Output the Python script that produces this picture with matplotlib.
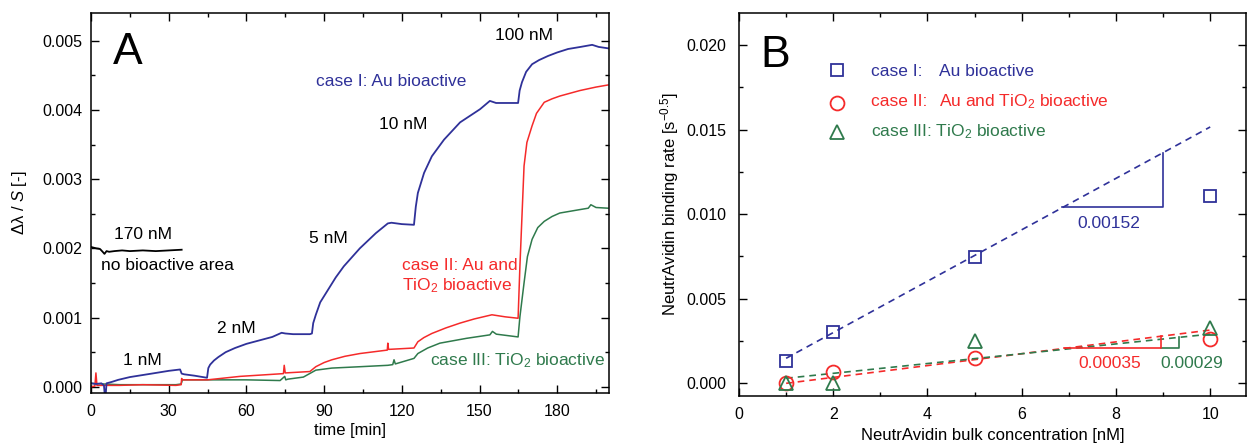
import numpy as np
import matplotlib
matplotlib.use('Agg')
import matplotlib.pyplot as plt
from matplotlib.ticker import MultipleLocator

plt.rcParams['font.family'] = ['Liberation Sans', 'DejaVu Sans']
plt.rcParams['mathtext.fontset'] = 'custom'
plt.rcParams['mathtext.rm'] = 'Liberation Sans'
plt.rcParams['mathtext.it'] = 'Liberation Sans:italic'

BLUE = '#2f3199'
RED = '#f52a2a'
GREEN = '#2f7a4c'

# panel A: sensorgrams (time [min], dlambda/S)
t_blue = [0, 2, 4, 5, 5.5, 6, 8, 10.5, 15, 23.4, 30, 34.4, 35, 36, 40, 44.8, 45.3, 46, 47.5, 49.2, 52, 55.6, 60, 65, 70, 73.6, 75, 78, 84.5,
          85.3, 85.8, 86.8, 88.5, 91.5, 94.5, 97.6, 103.8, 110, 114.6, 116, 120, 124.7, 125.4, 126.2, 128.6, 131.6, 136.3, 142.5, 150.2, 154,
          156.4, 160, 164.9, 165.5, 166.4, 168, 170.3, 173, 176.5, 180, 184.2, 189, 193.5, 196, 199.6]
v_blue = [0.00005, 0.00004, 0.00005, 0.00002, -0.0002, 0.00005, 0.00007, 0.0001, 0.00014, 0.00019, 0.00023, 0.00025, 0.00019, 0.00018, 0.00016, 0.00013, 0.00027, 0.00032, 0.00038, 0.00043, 0.0005, 0.00056, 0.00062, 0.00067, 0.00072, 0.00078, 0.00077, 0.00076, 0.00076,
          0.00077, 0.00092, 0.00104, 0.00122, 0.0014, 0.00158, 0.00174, 0.002, 0.00222, 0.00236, 0.00237, 0.00235, 0.00234, 0.0026, 0.0028, 0.00309, 0.00333, 0.00357, 0.00382, 0.00401, 0.00413,
          0.0041, 0.0041, 0.0041, 0.00428, 0.0044, 0.00455, 0.00466, 0.00472, 0.00478, 0.00483, 0.00488, 0.00491, 0.00494, 0.00491, 0.00489]

t_red = [0, 1.5, 1.9, 2.3, 5, 11, 20, 32.8, 34.8, 35, 35.3, 36, 45, 57.5, 74.3, 74.6, 75, 84.5, 86.8, 90, 93, 98, 103.8, 114.4, 114.6, 114.9, 124.7,
         126.2, 128.5, 131.6, 137, 142.5, 148, 154.8, 160, 164.9, 165.6, 167.2, 168.3, 170.3, 172, 175, 178, 181, 188.8, 195, 199.6]
v_red = [0.0, 0.00001, 0.0002, 0.00002, 0.00002, 0.00002, 0.00003, 0.00002, 0.00003, 0.00012, 0.0001, 0.0001, 0.0001, 0.00015, 0.00019, 0.00031, 0.0002, 0.00022, 0.00029, 0.00035, 0.00039, 0.00044, 0.00048, 0.00053, 0.00063, 0.00054, 0.00056,
         0.00065, 0.00071, 0.00077, 0.00085, 0.00092, 0.00098, 0.00104, 0.00101, 0.00099, 0.00174, 0.00319, 0.00353, 0.00377, 0.00395, 0.00411, 0.00416, 0.0042, 0.00428, 0.00433, 0.00436]

t_green = [0, 5, 11, 20, 32.8, 34.8, 35.3, 45, 60, 73, 74.8, 75.2, 76, 82, 86.8, 93, 104, 114.6, 116.5, 117, 117.5, 124.7,
           126.2, 130, 134.7, 145, 154, 155, 156.5, 164.9, 165.6, 167.2, 168.5, 170.3, 172.5, 175, 178, 181, 188.8, 192, 193, 195, 199.6]
v_green = [0.00005, 0.00004, 0.00003, 0.00003, 0.00003, 0.00004, 0.0001, 0.0001, 0.0001, 0.00009, 0.00015, 0.0001, 0.00011, 0.00014, 0.00024, 0.00027, 0.00029, 0.00031, 0.00032, 0.00039, 0.00033, 0.00041,
           0.00048, 0.00056, 0.00063, 0.0007, 0.00075, 0.0008, 0.00076, 0.00072, 0.00101, 0.0015, 0.00188, 0.00213, 0.0023, 0.00239, 0.00246, 0.00251, 0.00256, 0.00258, 0.00263, 0.00259, 0.00258]

t_black = [0, 2, 3.5, 4.5, 5.2, 6, 7, 9, 12, 15, 20, 25, 30, 35]
v_black = [0.00202, 0.002, 0.00199, 0.00195, 0.00192, 0.00196, 0.00195, 0.00196, 0.00197, 0.00196, 0.00197, 0.00196, 0.00197, 0.00198]

# panel B: binding rates vs. bulk concentration
conc = [1, 2, 5, 10]
rate_au = [0.00132, 0.00302, 0.00745, 0.01105]
rate_au_tio2 = [0.0, 0.00065, 0.00152, 0.00265]
rate_tio2 = [0.0, 0.0, 0.00248, 0.00326]

# linear fits (slope, intercept)
fit_au = (0.00152, -0.00004)
fit_au_tio2 = (0.00035, -0.00035)
fit_tio2 = (0.00029, 0.00001)
fit_x = [1, 10]

fig = plt.figure(figsize=(12.48, 4.45), dpi=100)
axA = fig.add_axes([91 / 1248, 1 - 393 / 445, (609 - 91) / 1248, (393 - 13) / 445])
axB = fig.add_axes([739 / 1248, 1 - 396 / 445, (1246 - 739) / 1248, (396 - 13) / 445])

for ax in (axA, axB):
    ax.tick_params(which='both', direction='in', top=True, right=True, labelsize=11.5, width=1)
    ax.tick_params(which='major', length=6)
    ax.tick_params(which='minor', length=3)
    for s in ax.spines.values():
        s.set_linewidth(1.1)
axA.tick_params(axis='y', pad=6)
axA.tick_params(axis='x', pad=8)
axB.tick_params(axis='y', pad=9)
axB.tick_params(axis='x', pad=8)

# ---- panel A
axA.plot(t_black, v_black, color='black', lw=1.3)
axA.plot(t_green, v_green, color=GREEN, lw=1.1)
axA.plot(t_red, v_red, color=RED, lw=1.1)
axA.plot(t_blue, v_blue, color=BLUE, lw=1.3)
axA.set_xlim(0, 200)
axA.set_ylim(-0.00009, 0.0054)
axA.xaxis.set_major_locator(MultipleLocator(30))
axA.xaxis.set_minor_locator(MultipleLocator(15))
axA.yaxis.set_major_locator(MultipleLocator(0.001))
axA.yaxis.set_minor_locator(MultipleLocator(0.0005))
axA.yaxis.set_major_formatter(plt.FormatStrFormatter('%.3f'))
axA.set_xlabel('time [min]', fontsize=12, labelpad=3)
axA.set_ylabel(r'Δλ / $S$ [-]', fontsize=12, labelpad=10)

fs = 12.5
axA.text(8.3, 0.00467, 'A', fontsize=32)
axA.text(167, 0.00501, '100 nM', ha='center', fontsize=fs)
axA.text(86.8, 0.00434, 'case I: Au bioactive', color=BLUE, fontsize=fs)
axA.text(120.5, 0.00373, '10 nM', ha='center', fontsize=fs)
axA.text(91.5, 0.00208, '5 nM', ha='center', fontsize=fs)
axA.text(20, 0.00214, '170 nM', ha='center', fontsize=fs)
axA.text(3.9, 0.00168, 'no bioactive area', fontsize=fs)
axA.text(56, 0.00077, '2 nM', ha='center', fontsize=fs)
axA.text(20, 0.00032, '1 nM', ha='center', fontsize=fs)
axA.text(120, 0.00169, 'case II: Au and', color=RED, fontsize=fs)
axA.text(120, 0.0014, r'TiO$_2$ bioactive', color=RED, fontsize=fs)
axA.text(131, 0.00031, r'case III: TiO$_2$ bioactive', color=GREEN, fontsize=fs)

# ---- panel B
for (m, b), col in ((fit_au, BLUE), (fit_au_tio2, RED), (fit_tio2, GREEN)):
    axB.plot(fit_x, [m * x + b for x in fit_x], ls=(0, (4, 3)), color=col, lw=1.2)

mk = dict(ls='none', fillstyle='none', mew=1.3)
axB.plot(conc, rate_au, marker='s', color=BLUE, markersize=8.5, **mk)
axB.plot(conc, rate_au_tio2, marker='o', color=RED, markersize=10, **mk)
axB.plot(conc, rate_tio2, marker='^', color=GREEN, markersize=10.5, **mk)

# slope triangles
axB.plot([6.85, 9.0, 9.0], [0.0104, 0.0104, fit_au[0] * 9.0 + fit_au[1]], color=BLUE, lw=1.2)
axB.plot([8.95, 9.33, 9.33], [0.00206, 0.00206, fit_tio2[0] * 9.33 + fit_tio2[1]], color=GREEN, lw=1.2)
axB.plot([6.9, 8.95, 8.95], [0.00206, 0.00206, fit_au_tio2[0] * 8.95 + fit_au_tio2[1]], color=RED, lw=1.2)
axB.text(7.85, 0.00919, '0.00152', color=BLUE, ha='center', fontsize=fs)
axB.text(7.86, 0.00089, '0.00035', color=RED, ha='center', fontsize=fs)
axB.text(9.6, 0.00089, '0.00029', color=GREEN, ha='center', fontsize=fs)

# legend drawn by hand
axB.plot([2.09], [0.01852], marker='s', color=BLUE, markersize=8.5, **mk)
axB.plot([2.09], [0.0166], marker='o', color=RED, markersize=10, **mk)
axB.plot([2.09], [0.01488], marker='^', color=GREEN, markersize=10.5, **mk)
axB.text(2.81, 0.01818, 'case I:', color=BLUE, fontsize=fs)
axB.text(4.25, 0.01818, 'Au bioactive', color=BLUE, fontsize=fs)
axB.text(2.81, 0.0164, 'case II:', color=RED, fontsize=fs)
axB.text(4.25, 0.0164, r'Au and TiO$_2$ bioactive', color=RED, fontsize=fs)
axB.text(2.81, 0.01458, r'case III: TiO$_2$ bioactive', color=GREEN, fontsize=fs)
axB.text(0.45, 0.01868, 'B', fontsize=32)

axB.set_xlim(0, 10.76)
axB.set_ylim(-0.00075, 0.0219)
axB.xaxis.set_major_locator(MultipleLocator(2))
axB.xaxis.set_minor_locator(MultipleLocator(1))
axB.yaxis.set_major_locator(MultipleLocator(0.005))
axB.yaxis.set_minor_locator(MultipleLocator(0.0025))
axB.yaxis.set_major_formatter(plt.FormatStrFormatter('%.3f'))
axB.set_xlabel('NeutrAvidin bulk concentration [nM]', fontsize=12, labelpad=4)
axB.set_ylabel(r'NeutrAvidin binding rate [s$^{-0.5}$]', fontsize=12, labelpad=4)

fig.savefig('out.png', dpi=100)
